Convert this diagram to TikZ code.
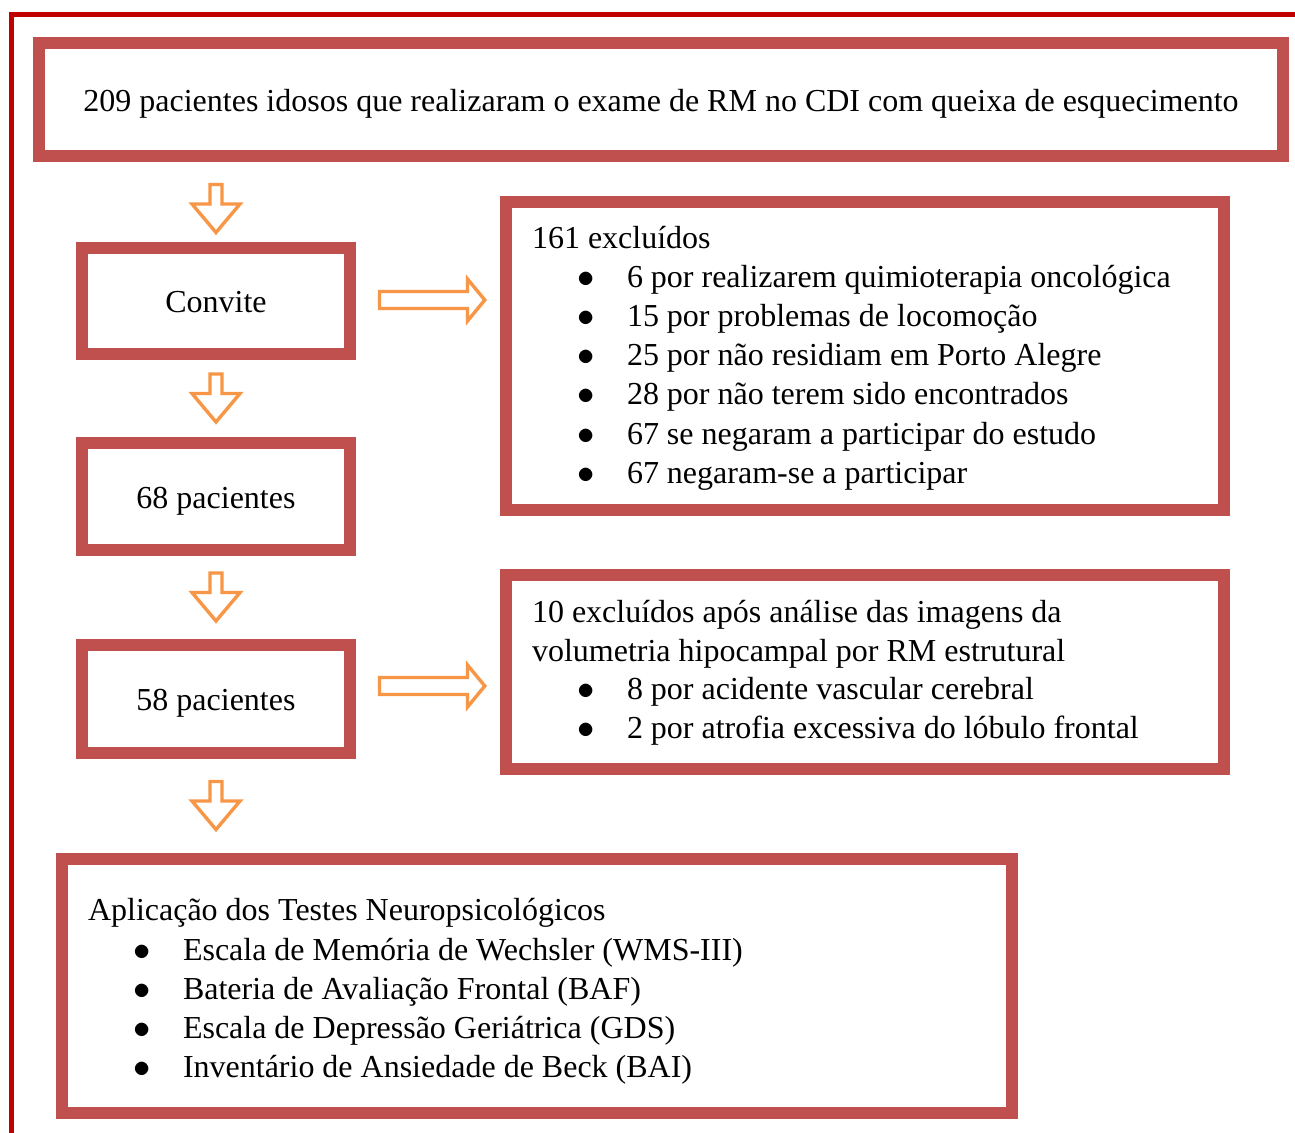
\documentclass[tikz,border=0pt]{standalone}
\usepackage{fontspec}
\setmainfont{Liberation Serif}
\usetikzlibrary{calc}
\definecolor{boxred}{HTML}{C0504D}
\definecolor{framered}{HTML}{C00000}
\definecolor{arroworange}{HTML}{F79646}
\newcommand{\bitem}{\hspace*{22.5pt}\makebox[25pt][l]{$\bullet$}}
\tikzset{
  flowbox/.style={draw=boxred, line width=6pt, inner xsep=13pt, inner ysep=0pt, align=center,
    font=\fontsize{16pt}{19.6pt}\selectfont},
  onebox/.style={flowbox, text height=14.6pt, text depth=3pt},
  listbox/.style={flowbox, align=flush left},
  arrowline/.style={draw=arroworange, fill=white, line width=1.7pt, line join=miter},
  pics/downarrow/.style={code={\draw[arrowline] (-6,-24.5) -- (6,-24.5) -- (6,-5) -- (24,-5) -- (0,23.5) -- (-24,-5) -- (-6,-5) -- cycle;}},
  pics/rightarrow/.style={code={\draw[arrowline] (-52.5,-8.5) -- (35.5,-8.5) -- (35.5,-21) -- (52.8,0) -- (35.5,21) -- (35.5,8.5) -- (-52.5,8.5) -- cycle;}},
}
\begin{document}
\begin{tikzpicture}[x=0.5pt, y=-0.5pt]
\useasboundingbox (0,0) rectangle (1295,1133);
% moldura
\draw[framered, line width=2.5pt] (11,1133) -- (11,15) -- (1295,15);
% caixas
\node[onebox, minimum width=622pt, minimum height=56.5pt] (total) at (661,99.5)
  {209 pacientes idosos que realizaram o exame de RM no CDI com queixa de esquecimento};
\node[onebox, minimum width=134pt, minimum height=53pt] (convite) at (216,301) {Convite};
\node[onebox, minimum width=134pt, minimum height=53.5pt] (n68) at (216,496.5) {68 pacientes};
\node[onebox, minimum width=134pt, minimum height=54pt] (n58) at (216,699) {58 pacientes};
\node[listbox, text width=333pt, text depth=119.1pt, minimum height=154pt] (excl1) at (865,356)
  {161 excluídos\\
   \bitem 6 por realizarem quimioterapia oncológica\\
   \bitem 15 por problemas de locomoção\\
   \bitem 25 por não residiam em Porto Alegre\\
   \bitem 28 por não terem sido encontrados\\
   \bitem 67 se negaram a participar do estudo\\
   \bitem 67 negaram-se a participar};
\node[listbox, text width=333pt, text depth=60.3pt, minimum height=97pt, font=\fontsize{16pt}{19.25pt}\selectfont] (excl2) at (865,672)
  {10 excluídos após análise das imagens da\\
   volumetria hipocampal por RM estrutural\\
   \bitem 8 por acidente vascular cerebral\\
   \bitem 2 por atrofia excessiva do lóbulo frontal};
\node[listbox, text width=449pt, text depth=76.2pt, minimum height=127pt] (testes) at (537,986)
  {Aplicação dos Testes Neuropsicológicos\\
   \bitem Escala de Memória de Wechsler (WMS-III)\\
   \bitem Bateria de Avaliação Frontal (BAF)\\
   \bitem Escala de Depressão Geriátrica (GDS)\\
   \bitem Inventário de Ansiedade de Beck (BAI)};
% setas
\pic at ($(convite.north |- total.south)!0.5!(convite.north)+(0,7)$) {downarrow};
\pic at ($(convite.south)!0.5!(n68.north)$) {downarrow};
\pic at ($(n68.south)!0.5!(n58.north)$) {downarrow};
\pic at ($(n58.south)!0.5!(n58.south |- testes.north)$) {downarrow};
\pic at ($(convite.east)!0.5!(convite.east -| excl1.west)+(4,-1)$) {rightarrow};
\pic at ($(n58.east)!0.5!(n58.east -| excl2.west)+(4,-13)$) {rightarrow};
\end{tikzpicture}
\end{document}
